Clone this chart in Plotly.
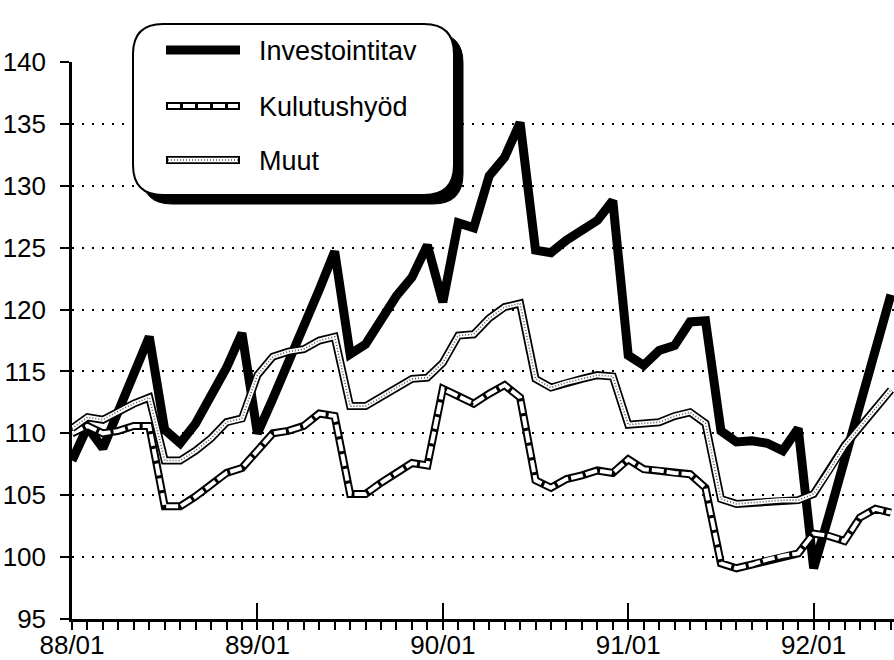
import plotly.graph_objects as go

# ---- data (monthly index, 1988/01 .. 1992/06) ----
years = ["88", "89", "90", "91", "92"]
month_nums = ["01", "02", "03", "04", "05", "06", "07", "08", "09", "10", "11", "12"]
months = [f"{y}/{m}" for y in years for m in month_nums][:54]

investointitav = [107.8, 110.5, 108.8, 111.7, 114.6, 117.8, 110.3, 109.2, 110.8, 112.9, 115.3, 118.1,
                  110.0, 112.8, 115.6, 118.6, 121.6, 124.7, 116.4, 117.2, 119.1, 121.1, 122.6, 125.2,
                  120.6, 127.0, 126.6, 130.8, 132.3, 135.1, 124.8, 124.6, 125.6, 126.4, 127.2, 128.8,
                  116.3, 115.5, 116.7, 117.1, 119.0, 119.1, 110.2, 109.3, 109.4, 109.2, 108.6, 110.4,
                  99.1, 103.4, 107.9, 112.4, 116.9, 121.2]

kulutushyod = [110.0, 110.6, 110.0, 110.2, 110.6, 110.6, 104.1, 104.1, 104.9, 105.9, 106.8, 107.2,
               108.6, 110.0, 110.2, 110.6, 111.6, 111.4, 105.1, 105.1, 106.0, 106.8, 107.6, 107.4,
               113.6, 113.0, 112.4, 113.2, 113.9, 112.9, 106.2, 105.6, 106.3, 106.6, 107.0, 106.8,
               107.9, 107.1, 107.0, 106.8, 106.7, 105.6, 99.5, 99.1, 99.4, 99.8, 100.1, 100.3,
               101.9, 101.7, 101.3, 103.2, 103.9, 103.6]

muut = [110.4, 111.3, 111.1, 111.8, 112.4, 112.9, 107.8, 107.8, 108.6, 109.6, 110.9, 111.2,
        114.7, 116.2, 116.6, 116.8, 117.5, 117.8, 112.2, 112.2, 112.9, 113.7, 114.4, 114.5,
        115.7, 117.9, 118.0, 119.3, 120.2, 120.5, 114.4, 113.7, 114.1, 114.4, 114.7, 114.6,
        110.7, 110.8, 110.9, 111.4, 111.7, 110.8, 104.7, 104.3, 104.4, 104.5, 104.6, 104.6,
        105.1, 107.0, 109.0, 110.5, 112.0, 113.5]

y_ticks = [95, 100, 105, 110, 115, 120, 125, 130, 135, 140]
series_names = ["Investointitav", "Kulutushyöd", "Muut"]

x = list(range(len(months)))
year_idx = [i for i, m in enumerate(months) if m.endswith("/01")]
year_lbl = [months[i] for i in year_idx]

FONT = "Liberation Sans, Arial, Helvetica, sans-serif"
KDASH = "12px,3px"

fig = go.Figure()
# Investointitav - thick black
fig.add_trace(go.Scatter(x=x, y=investointitav, mode="lines",
                         line=dict(color="black", width=9), name=series_names[0], showlegend=False))
# Kulutushyöd - outlined white with dashes
fig.add_trace(go.Scatter(x=x, y=kulutushyod, mode="lines",
                         line=dict(color="black", width=8), showlegend=False))
fig.add_trace(go.Scatter(x=x, y=kulutushyod, mode="lines",
                         line=dict(color="white", width=4, dash=KDASH), name=series_names[1], showlegend=False))
# Muut - outlined with dotted fill
fig.add_trace(go.Scatter(x=x, y=muut, mode="lines",
                         line=dict(color="black", width=8), showlegend=False))
fig.add_trace(go.Scatter(x=x, y=muut, mode="lines",
                         line=dict(color="white", width=4.5), showlegend=False))
fig.add_trace(go.Scatter(x=x, y=muut, mode="lines",
                         line=dict(color="#555555", width=1.6, dash="1px,2px"), name=series_names[2], showlegend=False))
# dummy trace for the monthly tick axis
fig.add_trace(go.Scatter(x=[0], y=[None], xaxis="x2", mode="lines", showlegend=False, hoverinfo="skip"))

L, R, T, B = 72, 0, 62, 41
W, H = 894, 660
PW, PH = W - L - R, H - T - B


def px(v):
    return (v - L) / PW


def py(v):
    return (H - B - v) / PH


def rrect(x0, y0, x1, y1, r):
    pts = [
        f"M {px(x0 + r)},{py(y0)}",
        f"L {px(x1 - r)},{py(y0)}",
        f"Q {px(x1)},{py(y0)} {px(x1)},{py(y0 + r)}",
        f"L {px(x1)},{py(y1 - r)}",
        f"Q {px(x1)},{py(y1)} {px(x1 - r)},{py(y1)}",
        f"L {px(x0 + r)},{py(y1)}",
        f"Q {px(x0)},{py(y1)} {px(x0)},{py(y1 - r)}",
        f"L {px(x0)},{py(y0 + r)}",
        f"Q {px(x0)},{py(y0)} {px(x0 + r)},{py(y0)}",
        "Z",
    ]
    return " ".join(pts)


shapes = []
# legend box shadow + box
bx0, by0, bx1, by1 = 133, 24, 454, 195
shapes.append(dict(type="path", xref="paper", yref="paper", path=rrect(bx0 + 9, by0 + 9, bx1 + 9, by1 + 9, 30),
                   fillcolor="black", line=dict(color="black", width=1), layer="above"))
shapes.append(dict(type="path", xref="paper", yref="paper", path=rrect(bx0, by0, bx1, by1, 30),
                   fillcolor="white", line=dict(color="black", width=2), layer="above"))

rows = [50, 106, 160]
sx0, sx1 = 166, 240
# sample 1
shapes.append(dict(type="line", xref="paper", yref="paper", x0=px(sx0), x1=px(sx1), y0=py(rows[0]), y1=py(rows[0]),
                   line=dict(color="black", width=9), layer="above"))
# sample 2
shapes.append(dict(type="line", xref="paper", yref="paper", x0=px(sx0), x1=px(sx1), y0=py(rows[1]), y1=py(rows[1]),
                   line=dict(color="black", width=8), layer="above"))
shapes.append(dict(type="line", xref="paper", yref="paper", x0=px(sx0 + 2), x1=px(sx1 - 2), y0=py(rows[1]), y1=py(rows[1]),
                   line=dict(color="white", width=4, dash=KDASH), layer="above"))
# sample 3
shapes.append(dict(type="line", xref="paper", yref="paper", x0=px(sx0), x1=px(sx1), y0=py(rows[2]), y1=py(rows[2]),
                   line=dict(color="black", width=8), layer="above"))
shapes.append(dict(type="line", xref="paper", yref="paper", x0=px(sx0 + 2), x1=px(sx1 - 2), y0=py(rows[2]), y1=py(rows[2]),
                   line=dict(color="white", width=4.5), layer="above"))
shapes.append(dict(type="line", xref="paper", yref="paper", x0=px(sx0 + 2), x1=px(sx1 - 2), y0=py(rows[2]), y1=py(rows[2]),
                   line=dict(color="#555555", width=1.6, dash="1px,2px"), layer="above"))

annotations = []
for name, r in zip(series_names, rows):
    annotations.append(dict(text=name, xref="paper", yref="paper", x=px(257), y=py(r + 1),
                            xanchor="left", yanchor="middle", showarrow=False,
                            font=dict(family=FONT, size=27, color="black")))

fig.update_layout(
    width=W, height=H,
    margin=dict(l=L, r=R, t=T, b=B, autoexpand=False),
    paper_bgcolor="white", plot_bgcolor="white",
    font=dict(family=FONT, size=26, color="black"),
    shapes=shapes, annotations=annotations,
    showlegend=False,
    xaxis=dict(range=[0, 53.2], tickmode="array", tickvals=year_idx, ticktext=year_lbl,
               ticks="inside", ticklen=16, tickwidth=2, tickcolor="black", automargin=False,
               showline=True, linewidth=2.5, linecolor="black", showgrid=False, zeroline=False,
               ticklabelstandoff=1, tickfont=dict(size=26, family=FONT)),
    xaxis2=dict(overlaying="x", matches="x", anchor="y", side="bottom", automargin=False,
                tickmode="linear", tick0=0, dtick=1, ticks="outside", ticklen=10, tickwidth=2,
                tickcolor="black", showticklabels=False, showgrid=False, showline=False, zeroline=False),
    yaxis=dict(range=[95, 140], tickmode="array", tickvals=y_ticks, ticks="outside", ticklen=9, tickwidth=2,
               tickcolor="black", showline=True, linewidth=2.5, linecolor="black", automargin=False,
               showgrid=True, gridcolor="black", gridwidth=2, griddash="2px,8px", zeroline=False,
               ticklabelstandoff=9, tickfont=dict(size=26, family=FONT)),
)

fig.write_html("out.html", config={"displayModeBar": False},
               post_script="document.body.style.margin='0px'; document.body.style.overflow='hidden';")
